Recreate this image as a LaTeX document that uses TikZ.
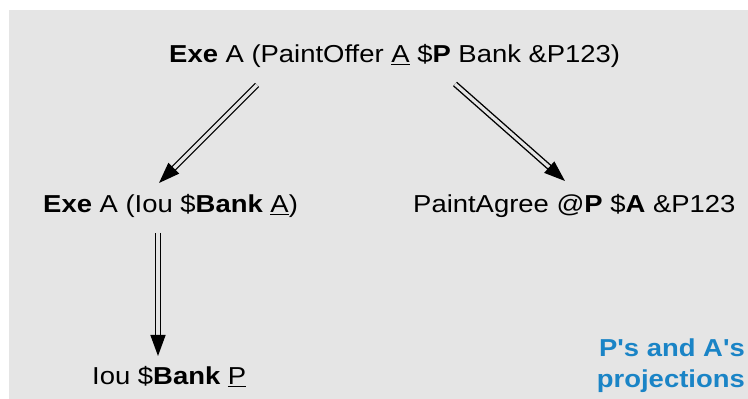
\documentclass[tikz,border=0pt]{standalone}
\usepackage{fontspec}
\setmainfont{Liberation Sans}[FakeStretch=1.12]
\newfontfamily\projfont{Liberation Sans}[FakeStretch=1.12]
\usetikzlibrary{arrows.meta}
\definecolor{bg}{HTML}{E5E5E5}
\definecolor{projblue}{HTML}{1A84C6}
\tikzset{
  lbl/.style={inner sep=0pt, anchor=base west, font=\fontsize{24.5}{29}\selectfont},
  dbl/.style={draw=black, line width=1.4pt, double=bg, double distance=3.2pt,
    -{Triangle[length=21pt,width=15pt]}},
  note/.style={inner sep=0pt, align=right, text=projblue,
    font=\projfont\fontsize{24.5}{31}\selectfont\bfseries}
}
\begin{document}
\begin{tikzpicture}[x=1pt,y=1pt]
\useasboundingbox (0,0) rectangle (748,399);
\fill[bg] (9,0) rectangle (748,389);
\node[lbl] (top) at (169,336) {\textbf{Exe} A (PaintOffer \underline{A} \$\textbf{P} Bank \&P123)};
\node[lbl] (ml) at (43,186) {\textbf{Exe} A (Iou \$\textbf{Bank} \underline{A})};
\node[lbl] (mr) at (413,186) {PaintAgree @\textbf{P} \$\textbf{A} \&P123};
\node[lbl] (bot) at (92,14) {Iou \$\textbf{Bank} \underline{P}};
\node[note, anchor=north east] (proj) at (745,60) {P's and A's\\projections};
\draw[dbl] ([shift={(88pt,-22pt)}]top.base west) -- ([shift={(116pt,30pt)}]ml.base west);
\draw[dbl] ([shift={(286pt,-21pt)}]top.base west) -- ([shift={(152pt,32pt)}]mr.base west);
\draw[dbl] ([shift={(115pt,-20pt)}]ml.base west) -- ([shift={(66pt,29pt)}]bot.base west);
\end{tikzpicture}
\end{document}
